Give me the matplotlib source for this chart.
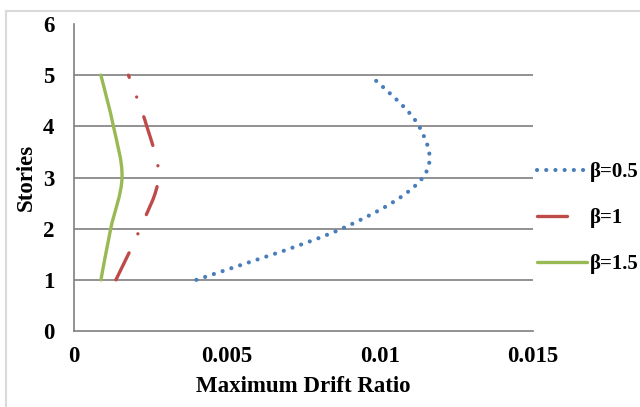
import numpy as np
import matplotlib
matplotlib.use("Agg")
from matplotlib import pyplot as plt
from matplotlib.path import Path
from matplotlib.patches import PathPatch
from matplotlib.lines import Line2D

# data
stories = [1, 2, 3, 4, 5]
drift_b05 = [0.0040, 0.00875, 0.0114, 0.01128, 0.00968]
drift_b1 = [0.00137, 0.00216, 0.00276, 0.00238, 0.00178]
drift_b15 = [0.00088, 0.0012, 0.00157, 0.00129, 0.00088]
labels = ["β=0.5", "β=1", "β=1.5"]
colors = ["#4a7ebb", "#be4b48", "#98b954"]

x_ticks = [0, 0.005, 0.01, 0.015]
x_ticklabels = ["0", "0.005", "0.01", "0.015"]
y_ticks = [0, 1, 2, 3, 4, 5, 6]

plt.rcParams['font.family'] = ['Liberation Serif', 'DejaVu Serif']
plt.rcParams['font.weight'] = 'bold'
FS = 16.5


def smooth_path(xs, ys):
    # excel-like smoothed line: catmull-rom turned into cubic beziers
    pts = np.column_stack([xs, ys]).astype(float)
    n = len(pts)
    verts = [pts[0]]
    codes = [Path.MOVETO]
    for i in range(n - 1):
        p0 = pts[i - 1] if i > 0 else pts[i]
        p1 = pts[i]
        p2 = pts[i + 1]
        p3 = pts[i + 2] if i + 2 < n else pts[i + 1]
        c1 = p1 + (p2 - p0) / 6.0
        c2 = p2 - (p3 - p1) / 6.0
        verts += [c1, c2, p2]
        codes += [Path.CURVE4] * 3
    return Path(verts, codes)


fig = plt.figure(figsize=(6.4, 4.07), dpi=100)
ax = fig.add_axes([0.1156, 0.1867, 0.7172, 0.7543])

widths = [3.0, 2.4, 2.4]
styles = [(0, (0.01, 2.2)), (0, (9.0, 6.3, 0.01, 6.3)), '-']
series = [drift_b05, drift_b1, drift_b15]
for vals, col, ls, w in zip(series, colors, styles, widths):
    patch = PathPatch(smooth_path(vals, stories), facecolor='none', edgecolor=col,
                      linewidth=w, linestyle=ls, capstyle='round', zorder=3)
    ax.add_patch(patch)

ax.set_xlim(0, 0.015)
ax.set_ylim(0, 6)
ax.set_xticks(x_ticks)
ax.set_xticklabels(x_ticklabels)
ax.set_yticks(y_ticks)
ax.tick_params(length=0, labelsize=FS)
ax.tick_params(axis='y', pad=14)
ax.tick_params(axis='x', pad=11)
for y in stories:
    ax.axhline(y, color='#7f7f7f', lw=1.2, zorder=1)

for s in ['top', 'right']:
    ax.spines[s].set_visible(False)
for s in ['left', 'bottom']:
    ax.spines[s].set_color('#7f7f7f')
    ax.spines[s].set_linewidth(1.2)

ax.set_xlabel("Maximum Drift Ratio", fontsize=FS, fontweight='bold')
ax.set_ylabel("Stories", fontsize=FS, fontweight='bold')
ax.xaxis.set_label_coords(0.5, -0.145)
ax.yaxis.set_label_coords(-0.08, 0.5)

handles = [Line2D([], [], color=c, lw=w, linestyle=ls,
                  dash_capstyle='round', solid_capstyle='round')
           for c, ls, w in zip(colors, styles, widths)]
ax.legend(handles, labels, loc='center left', bbox_to_anchor=(1.0, 0.368),
          frameon=False, fontsize=15, handlelength=2.4, handletextpad=0.15,
          labelspacing=1.25, borderpad=0.2, borderaxespad=0)

# light outer chart frame (cut off at right/bottom)
fig.add_artist(Line2D([6 / 640, 6 / 640], [0, 1 - 11 / 407], transform=fig.transFigure,
                      color='#d9d9d9', lw=1.5))
fig.add_artist(Line2D([6 / 640, 1], [1 - 11 / 407, 1 - 11 / 407], transform=fig.transFigure,
                      color='#d9d9d9', lw=1.5))

fig.savefig("out.png", dpi=100)
